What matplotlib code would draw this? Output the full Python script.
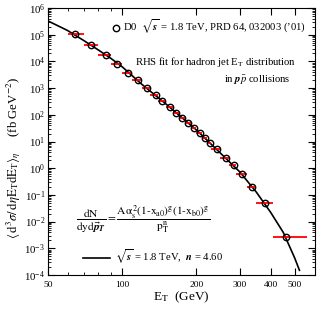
import matplotlib
matplotlib.use("Agg")
import matplotlib.pyplot as plt
import numpy as np
from matplotlib.ticker import FixedLocator, NullFormatter, LogLocator

plt.rcParams['font.family'] = 'serif'
plt.rcParams['font.serif'] = ['Liberation Serif', 'DejaVu Serif']
plt.rcParams['mathtext.fontset'] = 'stix'

# D0 inclusive jet data, |eta| < 0.5
et = [64.1, 74.7, 85.6, 95.4, 105.4, 115.4, 125.5, 136.5, 145.6, 155.9, 164.9,
      175.5, 185.6, 195.0, 206.2, 216.0, 226.4, 242.3, 262.8, 283.0, 306.0,
      335.8, 378.0, 463.0]
xsec = [1.06e5, 4.0e4, 1.78e4, 7.8e3, 3.8e3, 1.96e3, 1.0e3, 566, 337, 201, 120,
        75.9, 50.6, 32.0, 20.3, 13.5, 9.0, 5.1, 2.41, 1.35, 0.59, 0.203, 0.051,
        0.00258]
bin_lo = [60, 70, 80, 90, 100, 110, 120, 130, 140, 150, 160, 170, 180, 190, 200,
          210, 220, 230, 250, 270, 290, 320, 350, 410]
bin_hi = [70, 80, 90, 100, 110, 120, 130, 140, 150, 160, 170, 180, 190, 200, 210,
          220, 230, 250, 270, 290, 320, 350, 410, 560]

# fit curve, n = 4.60
fit_et = [50, 60, 70, 80, 90, 100, 120, 150, 200, 250, 300, 350, 400, 450, 500, 523]
fit_val = [3.3e5, 1.45e5, 6.0e4, 2.7e4, 1.3e4, 6.3e3, 1.4e3, 260, 27, 3.7, 0.72,
           0.126, 0.022, 0.0039, 4.4e-4, 1.5e-4]

fig = plt.figure(figsize=(3.17, 3.10), dpi=100)
ax = fig.add_axes([0.1514, 0.1129, 0.843, 0.861])

et_a = np.array(et)
xerr = [et_a - np.array(bin_lo), np.array(bin_hi) - et_a]
ax.errorbar(et, xsec, xerr=xerr, fmt='none', ecolor='red', elinewidth=1.3, capsize=0, zorder=2)
pts, = ax.plot(et, xsec, 'o', mfc='none', mec='black', ms=4.6, mew=1.0, zorder=3,
               label="D0  $\\sqrt{\\boldsymbol{s}}$ = 1.8 TeV, PRD 64, 032003 (\u201901)")
fit, = ax.plot(fit_et, fit_val, color='black', lw=1.2, zorder=1,
               label="$\\sqrt{\\boldsymbol{s}}$ = 1.8 TeV,  $\\boldsymbol{n}$ = 4.60")

ax.set_xscale('log')
ax.set_yscale('log')
ax.set_xlim(50, 606)
ax.set_ylim(1e-4, 1e6)

ax.xaxis.set_major_locator(FixedLocator([50, 100, 200, 300, 400, 500]))
ax.xaxis.set_major_formatter(matplotlib.ticker.FixedFormatter(['50', '100', '200', '300', '400', '500']))
ax.xaxis.set_minor_locator(FixedLocator([60, 70, 80, 90]))
ax.xaxis.set_minor_formatter(NullFormatter())
ax.yaxis.set_major_locator(LogLocator(base=10, numticks=20))
ax.yaxis.set_minor_locator(LogLocator(base=10, subs=np.arange(2, 10), numticks=20))
ax.yaxis.set_minor_formatter(NullFormatter())

ax.tick_params(which='both', direction='in', top=True, right=True)
ax.tick_params(which='major', length=5, width=0.8)
ax.tick_params(which='minor', length=2.5, width=0.6)
ax.tick_params(axis='x', labelsize=6.8, pad=4)
ax.tick_params(axis='y', labelsize=7.8, pad=2)

ax.set_xlabel("E$_\\mathrm{T}$  (GeV)", fontsize=9.5, labelpad=1)
ax.set_ylabel("$\\langle\\,\\mathrm{d}^3\\sigma/\\,\\mathrm{d}\\eta\\mathrm{E_TdE_T}\\rangle_\\eta$     (fb GeV$^{-2}$)",
              fontsize=9.2)
ax.yaxis.set_label_coords(-0.092, 0.44)

leg1 = ax.legend(handles=[pts], loc='center left', bbox_to_anchor=(0.239, 0.929),
                 frameon=False, fontsize=7.7, handlelength=0.8, handletextpad=0.2,
                 borderpad=0, borderaxespad=0)
ax.add_artist(leg1)
ax.legend(handles=[fit], loc='center left', bbox_to_anchor=(0.131, 0.067),
          frameon=False, fontsize=7.7, handlelength=2.5, handletextpad=0.5,
          borderpad=0, borderaxespad=0)

ax.text(0.629, 0.798, "RHS fit for hadron jet E$_\\mathrm{T}$ distribution",
        transform=ax.transAxes, ha='center', va='center', fontsize=7.7)
ax.text(0.784, 0.730, "in $\\boldsymbol{p\\bar{p}}$ collisions",
        transform=ax.transAxes, ha='center', va='center', fontsize=7.7)
ax.text(0.355, 0.206,
        "$\\dfrac{\\mathrm{dN}}{\\mathrm{dyd}\\vec{\\boldsymbol{p}}_{\\boldsymbol{T}}} = "
        "\\dfrac{\\mathrm{A\\alpha_s^{\\,2}(1\\text{-}x_{a0})^g(1\\text{-}x_{b0})^g}}{\\mathrm{p_T^n}}$",
        transform=ax.transAxes, ha='center', va='center', fontsize=8.2)

plt.savefig("out.png", dpi=100)
